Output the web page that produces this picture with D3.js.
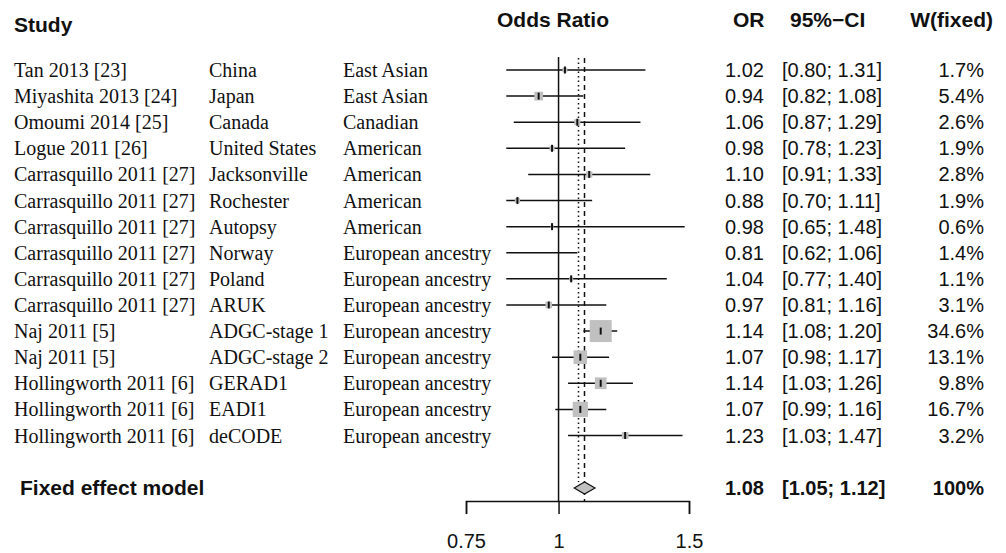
<!DOCTYPE html>
<html>
<head>
<meta charset="utf-8">
<script src="https://cdn.jsdelivr.net/npm/d3@7/dist/d3.min.js"></script>
<style>
    body { margin: 0; background: #fff; }
    svg { display: block; }
    .serif { font-family: "Liberation Serif", "Times New Roman", serif; font-size: 20px; fill: #111; }
    .sans { font-family: "Liberation Sans", Arial, sans-serif; font-size: 20px; fill: #111; }
    .head { font-family: "Liberation Sans", Arial, sans-serif; font-size: 21px; font-weight: bold; fill: #111; }
</style>
</head>
<body>
<div id="forest"></div>
<script>
// study rows
const studies = ['Tan 2013 [23]', 'Miyashita 2013 [24]', 'Omoumi 2014 [25]', 'Logue 2011 [26]',
    'Carrasquillo 2011 [27]', 'Carrasquillo 2011 [27]', 'Carrasquillo 2011 [27]', 'Carrasquillo 2011 [27]',
    'Carrasquillo 2011 [27]', 'Carrasquillo 2011 [27]', 'Naj 2011 [5]', 'Naj 2011 [5]',
    'Hollingworth 2011 [6]', 'Hollingworth 2011 [6]', 'Hollingworth 2011 [6]'];
const cohorts = ['China', 'Japan', 'Canada', 'United States', 'Jacksonville', 'Rochester', 'Autopsy',
    'Norway', 'Poland', 'ARUK', 'ADGC-stage 1', 'ADGC-stage 2', 'GERAD1', 'EADI1', 'deCODE'];
const populations = ['East Asian', 'East Asian', 'Canadian', 'American', 'American', 'American', 'American',
    'European ancestry', 'European ancestry', 'European ancestry', 'European ancestry', 'European ancestry',
    'European ancestry', 'European ancestry', 'European ancestry'];
const oddsRatio = [1.02, 0.94, 1.06, 0.98, 1.10, 0.88, 0.98, 0.81, 1.04, 0.97, 1.14, 1.07, 1.14, 1.07, 1.23];
const ciLower = [0.80, 0.82, 0.87, 0.78, 0.91, 0.70, 0.65, 0.62, 0.77, 0.81, 1.08, 0.98, 1.03, 0.99, 1.03];
const ciUpper = [1.31, 1.08, 1.29, 1.23, 1.33, 1.11, 1.48, 1.06, 1.40, 1.16, 1.20, 1.17, 1.26, 1.16, 1.47];
const weightFixed = [1.7, 5.4, 2.6, 1.9, 2.8, 1.9, 0.6, 1.4, 1.1, 3.1, 34.6, 13.1, 9.8, 16.7, 3.2];

// pooled estimate
const fixedOR = 1.084;
const fixedLower = 1.05;
const fixedUpper = 1.12;
const randomOR = 1.064; // dotted reference line
const axisTicks = [0.75, 1, 1.5];
const clipRange = [0.85, 1.5];

const width = 1006, height = 553;

let svg = d3.select('#forest').append('svg')
    .attr('width', width)
    .attr('height', height);

let x = d3.scaleLog()
    .domain([0.75, 1.5])
    .range([466, 689]);
let y = d3.scaleLinear()
    .domain([0, studies.length - 1])
    .range([70, 435.5]);
let boxSide = d3.scaleSqrt()
    .domain([0, 34.6])
    .range([0, 22]);

const yFixed = 488;
const yAxis = 501;
const lineTop = 57;

// headers
svg.append('text').attr('class', 'head').attr('x', 14).attr('y', 32).text('Study');
svg.append('text').attr('class', 'head').attr('x', 497).attr('y', 27).text('Odds Ratio');
svg.append('text').attr('class', 'head').attr('x', 733).attr('y', 27).text('OR');
svg.append('text').attr('class', 'head').attr('x', 790).attr('y', 27).text('95%\u2212CI');
svg.append('text').attr('class', 'head').attr('x', 993).attr('y', 27)
    .attr('text-anchor', 'end').text('W(fixed)');

// left labels
let rows = svg.append('g');
rows.selectAll('.study').data(studies).enter().append('text')
    .attr('class', 'serif').attr('x', 14).attr('y', (d, i) => y(i) + 7).text(d => d);
rows.selectAll('.cohort').data(cohorts).enter().append('text')
    .attr('class', 'serif').attr('x', 209).attr('y', (d, i) => y(i) + 7).text(d => d);
rows.selectAll('.pop').data(populations).enter().append('text')
    .attr('class', 'serif').attr('x', 343).attr('y', (d, i) => y(i) + 7).text(d => d);

// right columns
rows.selectAll('.orval').data(oddsRatio).enter().append('text')
    .attr('class', 'sans').attr('x', 725).attr('y', (d, i) => y(i) + 7).text(d => d.toFixed(2));
rows.selectAll('.ci').data(ciLower).enter().append('text')
    .attr('class', 'sans').attr('x', 782).attr('y', (d, i) => y(i) + 7)
    .text((d, i) => `[${d.toFixed(2)}; ${ciUpper[i].toFixed(2)}]`);
rows.selectAll('.wt').data(weightFixed).enter().append('text')
    .attr('class', 'sans').attr('x', 984).attr('y', (d, i) => y(i) + 7)
    .attr('text-anchor', 'end').text(d => `${d.toFixed(1)}%`);

// fixed effect row
svg.append('text').attr('class', 'head').attr('x', 20).attr('y', yFixed + 7).text('Fixed effect model');
svg.append('text').attr('class', 'sans').attr('x', 725).attr('y', yFixed + 7)
    .style('font-weight', 'bold').text(fixedOR.toFixed(2));
svg.append('text').attr('class', 'sans').attr('x', 782).attr('y', yFixed + 7)
    .style('font-weight', 'bold').text(`[${fixedLower.toFixed(2)}; ${fixedUpper.toFixed(2)}]`);
svg.append('text').attr('class', 'sans').attr('x', 984).attr('y', yFixed + 7)
    .attr('text-anchor', 'end').style('font-weight', 'bold').text('100%');

// reference lines
svg.append('line')
    .attr('x1', x(1)).attr('x2', x(1)).attr('y1', lineTop).attr('y2', yAxis)
    .attr('stroke', '#111').attr('stroke-width', 1.5);
svg.append('line')
    .attr('x1', x(randomOR)).attr('x2', x(randomOR)).attr('y1', lineTop + 1).attr('y2', yFixed - 6)
    .attr('stroke', '#111').attr('stroke-width', 1.5).attr('stroke-dasharray', '1.5,3');
svg.append('line')
    .attr('x1', x(fixedOR)).attr('x2', x(fixedOR)).attr('y1', lineTop + 1).attr('y2', yAxis)
    .attr('stroke', '#111').attr('stroke-width', 1.5).attr('stroke-dasharray', '5,4');

// confidence intervals, clipped to plotting range
let plot = svg.append('g');
plot.selectAll('.ciline').data(oddsRatio).enter().append('line')
    .attr('x1', (d, i) => x(Math.max(ciLower[i], clipRange[0])))
    .attr('x2', (d, i) => x(Math.min(ciUpper[i], clipRange[1])))
    .attr('y1', (d, i) => y(i)).attr('y2', (d, i) => y(i))
    .attr('stroke', '#111').attr('stroke-width', 1.5);

let inRange = oddsRatio.map((d, i) => ({ or: d, w: weightFixed[i], i: i }))
    .filter(d => d.or >= clipRange[0] && d.or <= clipRange[1]);

plot.selectAll('.box').data(inRange).enter().append('rect')
    .attr('x', d => x(d.or) - boxSide(d.w) / 2)
    .attr('y', d => y(d.i) - boxSide(d.w) / 2)
    .attr('width', d => boxSide(d.w))
    .attr('height', d => boxSide(d.w))
    .attr('fill', '#c0c0c0');
plot.selectAll('.mark').data(inRange).enter().append('line')
    .attr('x1', d => x(d.or)).attr('x2', d => x(d.or))
    .attr('y1', d => y(d.i) - 3.5).attr('y2', d => y(d.i) + 3.5)
    .attr('stroke', '#111').attr('stroke-width', 2);

// diamond
svg.append('polygon')
    .attr('points', [
        [x(fixedLower), yFixed], [x(fixedOR), yFixed - 6],
        [x(fixedUpper), yFixed], [x(fixedOR), yFixed + 6]
    ].map(p => p.join(',')).join(' '))
    .attr('fill', '#c0c0c0')
    .attr('stroke', '#111')
    .attr('stroke-width', 1.2);

// axis
let axis = svg.append('g')
    .attr('transform', `translate(0, ${yAxis})`)
    .call(d3.axisBottom(x)
        .tickValues(axisTicks)
        .tickFormat(d => d)
        .tickSize(13)
        .tickPadding(20));
axis.selectAll('path, line').attr('stroke', '#111').attr('stroke-width', 1.5);
axis.selectAll('text')
    .attr('fill', '#111')
    .style('font-family', '"Liberation Sans", Arial, sans-serif')
    .style('font-size', '20px');
</script>
</body>
</html>
